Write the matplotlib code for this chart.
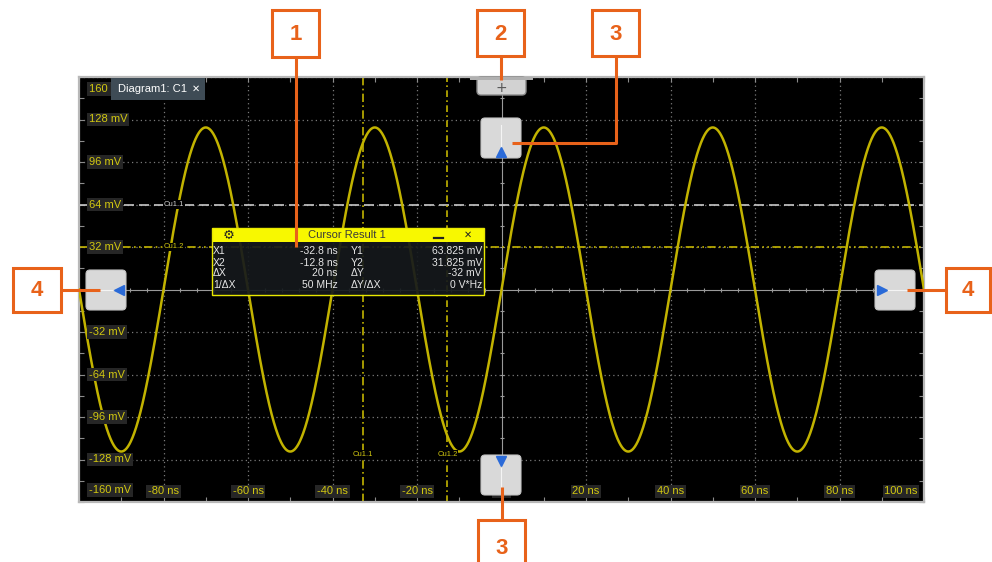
import numpy as np
import matplotlib
matplotlib.use("Agg")
import matplotlib.pyplot as plt
from matplotlib.patches import Rectangle, FancyBboxPatch

plt.rcParams['font.family'] = ['Liberation Sans', 'DejaVu Sans']

# signal: ~122 mV amplitude, 40 ns period, peak at -70 ns
amplitude_mv = 122
period_ns = 40
peak_ns = -70

# axis labels
x_ticks = [-80, -60, -40, -20, 0, 20, 40, 60, 80, 100]
x_labels = ["-80 ns", "-60 ns", "-40 ns", "-20 ns", "0 s", "20 ns", "40 ns", "60 ns", "80 ns", "100 ns"]
y_ticks = [160, 128, 96, 64, 32, -32, -64, -96, -128, -160]
y_labels = ["160 mV", "128 mV", "96 mV", "64 mV", "32 mV", "-32 mV", "-64 mV", "-96 mV", "-128 mV", "-160 mV"]

# cursors
cursor_x = [-32.8, -12.8]
cursor_y = [64, 32]
cursor_names = ["Cu1.1", "Cu1.2"]

# cursor result table
res_lbl1 = ["X1", "X2", "ΔX", "1/ΔX"]
res_val1 = ["-32.8 ns", "-12.8 ns", "20 ns", "50 MHz"]
res_lbl2 = ["Y1", "Y2", "ΔY", "ΔY/ΔX"]
res_val2 = ["63.825 mV", "31.825 mV", "-32 mV", "0 V*Hz"]

YEL = '#c2b300'
TXT = '#d2c810'
ORANGE = '#e8621a'

W, H = 992, 562
fig = plt.figure(figsize=(W / 100, H / 100), dpi=100)
fig.patch.set_facecolor('white')

L, R, T, B = 79, 924, 77, 502
ax = fig.add_axes([L / W, (H - B) / H, (R - L) / W, (B - T) / H])
ax.set_facecolor('black')
xmax = -100 + (R - L) / 4.25
ax.set_xlim(-100, xmax)
ax.set_ylim(-160, 160)
for s in ax.spines.values():
    s.set_color('#b8b8b8')
    s.set_linewidth(1.6)
ax.set_xticks(np.arange(-100, 101, 10))
ax.set_yticks(np.arange(-160, 161, 16))
ax.tick_params(direction='in', length=3.5, color='#8c8c8c', labelleft=False,
               labelbottom=False, top=True, right=True, width=0.8)

# grid
for gx in range(-80, 101, 20):
    if gx != 0:
        ax.axvline(gx, color='#7a7a7a', lw=0.9, ls=(0, (1, 2.5)), zorder=1)
for gy in range(-128, 161, 32):
    if gy != 0:
        ax.axhline(gy, color='#7a7a7a', lw=0.9, ls=(0, (1, 2.5)), zorder=1)
ax.axvline(0, color='#9a9a9a', lw=0.8, zorder=1)
ax.axhline(0, color='#9a9a9a', lw=0.8, zorder=1)
ax.plot(np.arange(-100, 101, 4), np.zeros(51), ls='none', marker='|', ms=3.5, color='#9a9a9a', mew=0.8, zorder=1)
ax.plot(np.zeros(21), np.arange(-160, 161, 16), ls='none', marker='_', ms=3.5, color='#9a9a9a', mew=0.8, zorder=1)

# trace
t = np.linspace(-100, 100, 3001)
v = amplitude_mv * np.cos(2 * np.pi * (t - peak_ns) / period_ns)
ax.plot(t, v, color=YEL, lw=1.8, zorder=3)

# cursors
ax.axhline(cursor_y[0], color='#c8c8c8', lw=1.2, ls=(0, (6, 3)), zorder=2)
ax.axhline(cursor_y[1], color=YEL, lw=1.2, ls=(0, (5, 2, 1, 2, 1, 2)), zorder=2)
ax.axvline(cursor_x[0], color=YEL, lw=1.2, ls=(0, (5, 2, 1, 2)), zorder=2)
ax.axvline(cursor_x[1], color=YEL, lw=1.2, ls=(0, (4, 2, 1, 2)), zorder=2)
ax.text(-77.5, cursor_y[0], cursor_names[0], color='#d0d0d0', fontsize=5.5, ha='center', va='center',
        bbox=dict(fc='black', ec='none', pad=0.5), zorder=4)
ax.text(-77.5, cursor_y[1], cursor_names[1], color=TXT, fontsize=5.5, ha='center', va='center',
        bbox=dict(fc='black', ec='none', pad=0.5), zorder=4)
for cx, nm in zip(cursor_x, cursor_names):
    ax.text(cx, -124, nm, color=TXT, fontsize=5.5, ha='center', va='center',
            bbox=dict(fc='black', ec='none', pad=0.5), zorder=4)

# tick labels drawn inside the screen
lab_box = dict(fc='#262626', ec='none', pad=1.2)
for yv, lb in zip(y_ticks, y_labels):
    yy = yv if abs(yv) < 160 else np.sign(yv) * 151
    ax.text(-97.6, yy, lb, color=TXT, fontsize=8, ha='left', va='center', bbox=lab_box, zorder=5)
for xv, lb in zip(x_ticks, x_labels):
    if xv > xmax - 6:
        ax.text(xmax - 0.3, -152, lb, color=TXT, fontsize=8, ha='right', va='center', bbox=lab_box,
                zorder=5, clip_on=True)
    else:
        ax.text(xv, -152, lb, color=TXT, fontsize=8, ha='center', va='center', bbox=lab_box, zorder=5)

# overlay in pixel coordinates
ov = fig.add_axes([0, 0, 1, 1], zorder=10)
ov.set_xlim(0, W)
ov.set_ylim(H, 0)
ov.axis('off')

# tab (covers the top "160 mV" label like on the scope)
ov.add_patch(Rectangle((111, 78), 94, 22, fc='#3e4b55', ec='none'))
ov.text(118, 89, "Diagram1: C1", color='white', fontsize=8, va='center', ha='left')
ov.text(196, 89, "✕", color='white', fontsize=7, va='center', ha='center', family='DejaVu Sans', weight='bold')

# top "+" tab
ov.add_patch(FancyBboxPatch((478, 78), 47, 16, boxstyle='round,pad=1,rounding_size=4',
                            fc='#d2d2d2', ec='#8a8a8a', lw=1))
ov.add_patch(Rectangle((470, 77), 63, 3, fc='#b0b0b0', ec='none'))
ov.text(501.5, 88, "+", color='#555555', fontsize=10, ha='center', va='center', family='DejaVu Sans')

# buttons
def button(x0, y0, mk, mx, my):
    ov.add_patch(FancyBboxPatch((x0 + 3, y0 + 3), 34, 34, boxstyle='round,pad=3,rounding_size=4',
                                fc='#d9d9d9', ec='#c4c4c4', lw=0.8))
    ov.plot([mx], [my], marker=mk, ms=6.5, color='#2a6ad8', mec='#2a6ad8')

button(481, 118, '^', 501, 152)
button(481, 455, 'v', 501, 461)
button(86, 270, '<', 119, 290)
button(875, 270, '>', 882, 290)
ov.plot([92, 112], [290, 290], color='#f4f4f4', lw=0.8)
ov.plot([888, 912], [290, 290], color='#f4f4f4', lw=0.8)
ov.plot([501, 501], [125, 146], color='#f4f4f4', lw=0.8)
ov.plot([501, 501], [468, 490], color='#f4f4f4', lw=0.8)

# cursor result box
bx0, bx1, hy0, hy1, by1 = 212, 484, 228, 242, 295
ov.add_patch(Rectangle((bx0, hy1), bx1 - bx0, by1 - hy1, fc='#15191c', ec='none', alpha=0.92))
ov.add_patch(Rectangle((bx0, hy0), bx1 - bx0, hy1 - hy0, fc='#f8f800', ec='none'))
ov.add_patch(Rectangle((bx0, hy0), bx1 - bx0, by1 - hy0, fc='none', ec='#e8e800', lw=1))
ov.text(347, 235, "Cursor Result 1", color='#3a3a3a', fontsize=8, ha='center', va='center')
ov.text(229, 235, "⚙", color='#222222', fontsize=9.5, ha='center', va='center', family='DejaVu Sans')
ov.plot([434, 443], [238, 238], color='#222222', lw=1.6)
ov.text(468, 235, "✕", color='#222222', fontsize=7, ha='center', va='center', family='DejaVu Sans', weight='bold')
row_y = [251.5, 262.5, 273.5, 285]
for i, ry in enumerate(row_y):
    ov.text(213, ry, res_lbl1[i], color='#e6e6e6', fontsize=7.5, ha='left', va='center')
    ov.text(338, ry, res_val1[i], color='#e6e6e6', fontsize=7.5, ha='right', va='center')
    ov.text(351, ry, res_lbl2[i], color='#e6e6e6', fontsize=7.5, ha='left', va='center')
    ov.text(482, ry, res_val2[i], color='#e6e6e6', fontsize=7.5, ha='right', va='center')

# callouts
def callout(x0, y0, x1, y1, num, path):
    xs, ys = zip(*path)
    ov.plot(xs, ys, color=ORANGE, lw=2.2, solid_capstyle='butt', zorder=20)
    ov.add_patch(Rectangle((x0, y0), x1 - x0, y1 - y0, fc='white', ec=ORANGE, lw=2.2, zorder=21))
    ov.text((x0 + x1) / 2, (y0 + y1) / 2 + 1, num, color=ORANGE, fontsize=16, weight='bold',
            ha='center', va='center', zorder=22)

callout(272, 10, 319, 57, "1", [(295.5, 57), (295.5, 247)])
callout(477, 10, 524, 56, "2", [(500.5, 56), (500.5, 80)])
callout(592, 10, 639, 56, "3", [(615.5, 56), (615.5, 143), (512, 143)])
callout(478, 520, 525, 575, "3", [(501.5, 520), (501.5, 487)])
callout(13, 268, 61, 312, "4", [(61, 290), (100, 290)])
callout(946, 268, 990, 312, "4", [(907, 290), (946, 290)])

fig.savefig("out.png", dpi=100)
